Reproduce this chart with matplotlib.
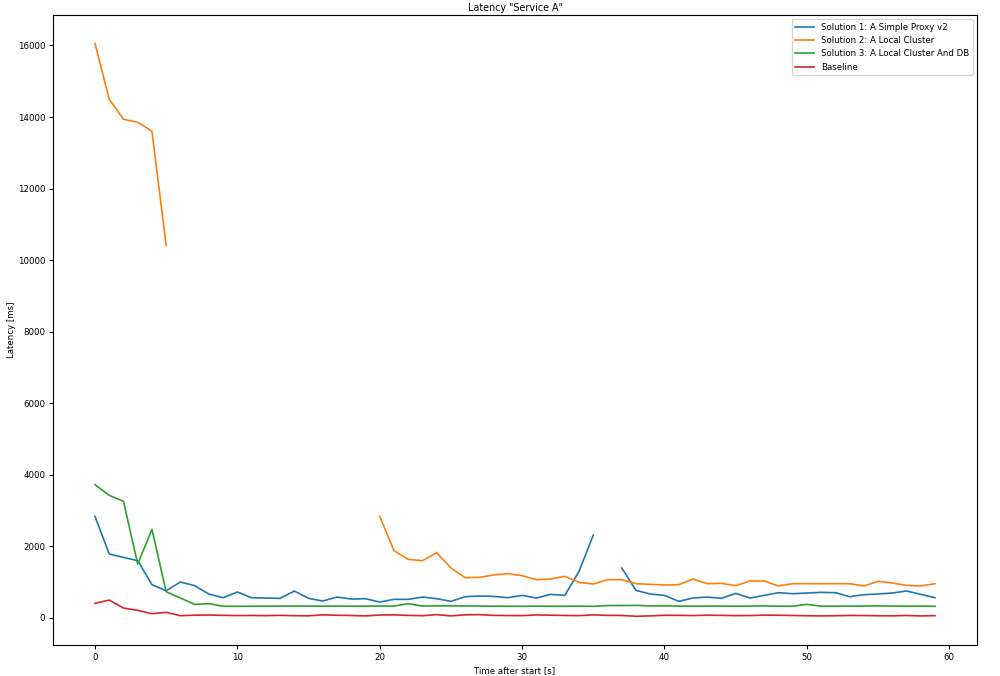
import numpy as np
import matplotlib
matplotlib.use("Agg")
import matplotlib.pyplot as plt

nan = np.nan
time_s = list(range(60))

sol1 = [2833, 1781, 1687, 1594, 923, 755, 998, 895, 662, 559,
        718, 559, 550, 541, 745, 541, 466, 578, 522, 531,
        438, 513, 513, 578, 531, 457, 587, 606, 596, 559,
        624, 550, 652, 624, 1296, 2312, nan, 1389, 764, 662,
        624, 457, 550, 578, 541, 680, 550, 624, 699, 671,
        690, 708, 699, 587, 643, 662, 690, 746, 652, 559]

sol2 = [16055, 14497, 13937, 13853, 13601, 10405, nan, nan, nan, nan,
        nan, nan, nan, nan, nan, nan, nan, nan, nan, nan,
        2833, 1874, 1631, 1594, 1818, 1389, 1119, 1128, 1194, 1231,
        1175, 1063, 1082, 1156, 988, 942, 1063, 1063, 951, 932,
        914, 923, 1082, 951, 960, 895, 1026, 1026, 886, 951,
        951, 951, 951, 951, 886, 1017, 970, 904, 886, 951]

sol3 = [3720, 3421, 3253, 1501, 2470, 727, 550, 373, 392, 320,
        318, 320, 322, 325, 325, 325, 323, 325, 322, 325,
        325, 325, 392, 325, 330, 330, 328, 325, 322, 320,
        318, 322, 320, 320, 322, 318, 340, 340, 345, 330,
        330, 325, 322, 325, 325, 322, 325, 330, 322, 320,
        373, 322, 322, 325, 325, 330, 325, 322, 325, 318]

baseline = [401, 494, 270, 205, 112, 149, 56, 70, 75, 65,
            60, 62, 58, 65, 56, 52, 80, 68, 62, 50,
            75, 80, 65, 55, 85, 50, 80, 85, 65, 60,
            58, 78, 70, 62, 58, 80, 65, 62, 40, 50,
            68, 65, 60, 70, 65, 58, 60, 72, 68, 62,
            55, 50, 55, 62, 60, 55, 52, 62, 50, 58]

labels = ["Solution 1: A Simple Proxy v2", "Solution 2: A Local Cluster",
          "Solution 3: A Local Cluster And DB", "Baseline"]

plt.rcParams['font.size'] = 6.2
fig = plt.figure(figsize=(10, 6.76), dpi=100)
ax = fig.add_axes([0.053, 0.046, 0.924, 0.932])
for s, lab in zip([sol1, sol2, sol3, baseline], labels):
    ax.plot(time_s, s, label=lab, linewidth=1.2)
ax.set_title('Latency "Service A"', fontsize=6.9, pad=3)
ax.set_xlabel("Time after start [s]", labelpad=3)
ax.set_ylabel("Latency [ms]", labelpad=1)
ax.tick_params(length=3, pad=2.5)
ax.legend(loc="upper right", handlelength=2.2)
fig.savefig("out.png", dpi=100)
